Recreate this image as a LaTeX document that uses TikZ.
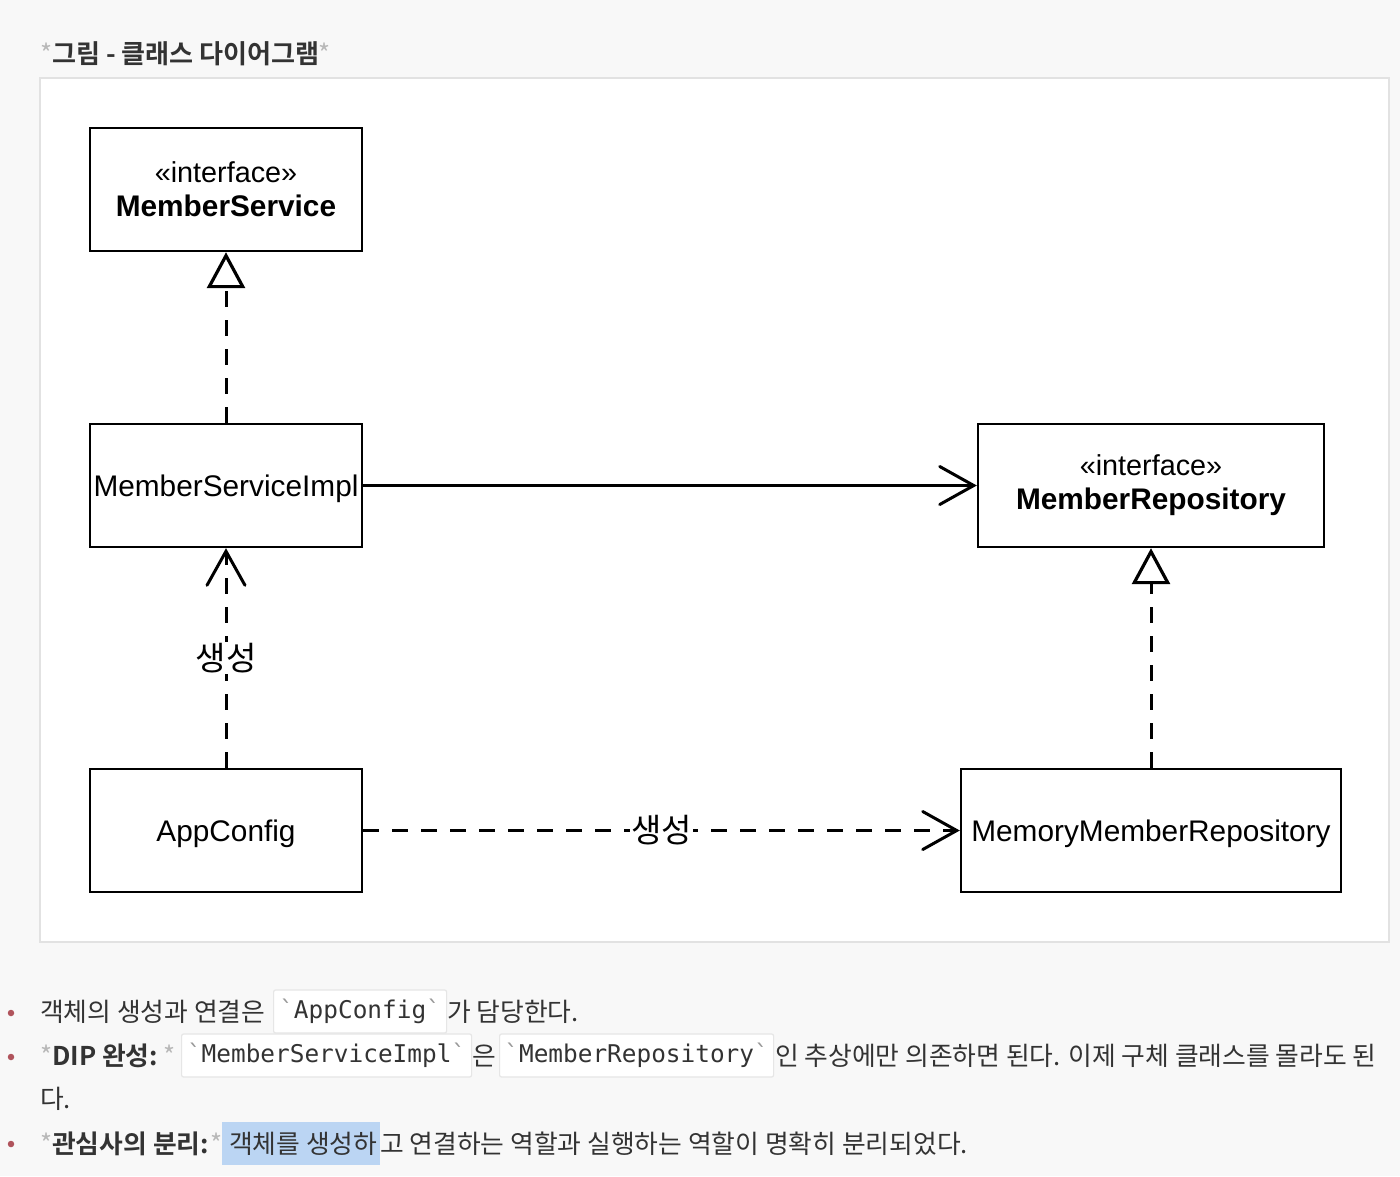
\documentclass[tikz,border=0pt]{standalone}
\usepackage{fontspec}
\setmainfont{Liberation Sans}
\setmonofont{DejaVu Sans Mono}
\newfontfamily\kr{Noto Sans CJK KR}[BoldFont={Noto Sans CJK KR Bold}]
\usetikzlibrary{arrows.meta}
\definecolor{pagebg}{HTML}{F8F8F8}
\definecolor{framec}{HTML}{E2E2E2}
\definecolor{txt}{HTML}{333333}
\definecolor{star}{HTML}{B8B8B8}
\definecolor{bulc}{HTML}{B0545C}
\definecolor{codeb}{HTML}{E6E6E6}
\definecolor{tick}{HTML}{999999}
\definecolor{hl}{HTML}{BBD5F3}
\tikzset{
  umlbox/.style={draw=black, line width=2.4pt, fill=white, minimum height=123pt,
    align=center, inner sep=0pt, font=\fontsize{29.8}{34}\selectfont},
  single/.style={text depth=0pt},
  conn/.style={line width=3pt},
  dashedconn/.style={conn, dash pattern=on 16pt off 13pt},
  realize/.style={-{Triangle[open, length=36pt, width=38pt, line width=3.2pt]}},
  depend/.style={-{Straight Barb[length=34pt, width=38pt, line width=3pt, line cap=round]}},
  lbl/.style={fill=white, inner sep=1pt, font=\kr\fontsize{33}{36}\selectfont},
  body/.style={anchor=base west, inner sep=0pt, text=txt, font=\kr\fontsize{25.8}{30}\selectfont},
  bodyb/.style={body, font=\kr\bfseries\fontsize{25.8}{30}\selectfont},
  bstar/.style={anchor=base west, inner sep=0pt, text=star, font=\kr\fontsize{25.8}{30}\selectfont},
  codebox/.style={draw=codeb, line width=1.2pt, fill=white, rounded corners=2pt,
    minimum height=43pt, inner sep=0pt, anchor=west, text=txt, font=\ttfamily\fontsize{24.4}{30}\selectfont},
  bullet/.style={circle, fill=bulc, inner sep=0pt, minimum size=6.5pt}
}
\newcommand{\tk}{{\color{tick}\symbol{96}}}
\newcommand{\stereo}{{\fontsize{28.8}{32}\selectfont «interface»}}
\begin{document}
\begin{tikzpicture}[x={(1pt,0)}, y={(0,-1pt)}]
\useasboundingbox (0,0) rectangle (1400,1176);
\fill[pagebg] (0,0) rectangle (1400,1176);
% title
\node[bstar] (t1) at (40,63) {*};
\node[body, font=\kr\bfseries\fontsize{26.1}{30}\selectfont] (t2) at (52,63) {그림 - 클래스 다이어그램};
\node[bstar] (t3) at (318,63) {*};
% frame
\draw[framec, line width=2pt, fill=white] (40,78) rectangle (1389,942);
% boxes
\node[umlbox, minimum width=272pt] (ms) at (226,189.5) {\stereo\\[0pt]\textbf{MemberService}};
\node[umlbox, single, minimum width=272pt] (impl) at (226,485.5) {MemberServiceImpl};
\node[umlbox, single, minimum width=272pt] (app) at (226,830.5) {AppConfig};
\node[umlbox, minimum width=346pt] (mr) at (1151,485.5) {\stereo\\[0pt]\textbf{MemberRepository}};
\node[umlbox, single, minimum width=380pt] (mem) at (1151,830.5) {MemoryMemberRepository};
% connectors
\draw[dashedconn, realize] (impl.north) -- (ms.south);
\draw[conn, depend] (impl.east) -- (mr.west);
\draw[dashedconn, depend] (app.north) -- node[lbl] (l1) {생성} (impl.south);
\draw[dashedconn, depend] (app.east) -- node[lbl] (l2) {생성} (mem.west);
\draw[dashedconn, realize] (mem.north) -- (mr.south);
% bullets
\node[bullet] (b1) at (11,1013) {};
\node[bullet] (b2) at (11,1057) {};
\node[bullet] (b3) at (11,1144) {};
% line 1
\node[body] (a1) at (40,1021) {객체의 생성과 연결은};
\node[codebox, minimum width=173pt] (c1) at (273,1011.5) {\tk AppConfig\tk};
\node[body] (a2) at (447,1021) {가 담당한다.};
% line 2
\node[bstar] (s1) at (40,1065) {*};
\node[bodyb] (d1) at (52,1065) {DIP 완성:};
\node[bstar] (s2) at (163,1065) {*};
\node[codebox, minimum width=290pt] (c2) at (181,1055.5) {\tk MemberServiceImpl\tk};
\node[body] (d2) at (472,1065) {은};
\node[codebox, minimum width=274pt] (c3) at (499,1055.5) {\tk MemberRepository\tk};
\node[body] (d3) at (775,1065) {인 추상에만 의존하면 된다. 이제 구체 클래스를 몰라도 된};
\node[body] (d4) at (40,1108) {다.};
% line 4
\node[bstar] (s3) at (40,1153) {*};
\node[bodyb] (e1) at (52,1153) {관심사의 분리:};
\node[bstar] (s4) at (210,1153) {*};
\fill[hl] (222,1122) rectangle (380,1165);
\node[body] (e2) at (229,1153) {객체를 생성하};
\node[body] (e3) at (380,1153) {고 연결하는 역할과 실행하는 역할이 명확히 분리되었다.};
\end{tikzpicture}
\end{document}
